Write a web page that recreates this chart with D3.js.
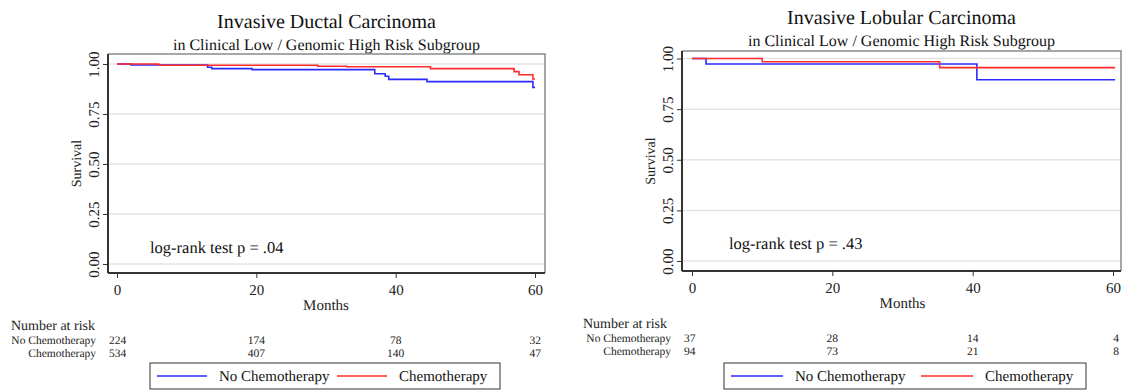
<!DOCTYPE html>
<html>
<head>
<meta charset="utf-8">
<script src="https://cdn.jsdelivr.net/npm/d3@7"></script>
<style>
  body { margin: 0; background: #fff; }
  svg, svg text { font-family: "Liberation Serif", "Times New Roman", Times, serif; text-rendering: geometricPrecision; }
  svg { display: block; }
</style>
</head>
<body>
<svg id="chart" width="1127" height="390"></svg>
<script>
// data
const monthTicks = [0, 20, 40, 60];
const survivalTicks = [0, 0.25, 0.5, 0.75, 1];
const groups = ['No Chemotherapy', 'Chemotherapy'];

// Invasive Ductal Carcinoma
const idcNoChemoTime = [0, 2, 13, 13.6, 19.4, 37, 38.5, 39, 44.5, 59.7, 60];
const idcNoChemoSurv = [1, 0.995, 0.984, 0.977, 0.972, 0.951, 0.939, 0.923, 0.912, 0.883, 0.883];
const idcChemoTime = [0, 6, 28.8, 33, 45, 57, 57.7, 59.7, 60];
const idcChemoSurv = [1, 0.994, 0.989, 0.986, 0.977, 0.962, 0.946, 0.925, 0.925];
const idcRiskNoChemo = [224, 174, 78, 32];
const idcRiskChemo = [534, 407, 140, 47];

// Invasive Lobular Carcinoma
const ilcNoChemoTime = [0, 2, 40.6, 60.3];
const ilcNoChemoSurv = [1, 0.973, 0.895, 0.895];
const ilcChemoTime = [0, 10, 35.3, 60.3];
const ilcChemoSurv = [1, 0.984, 0.955, 0.955];
const ilcRiskNoChemo = [37, 28, 14, 4];
const ilcRiskChemo = [94, 73, 21, 8];

const colors = ['#2b2bff', '#ff2b2b'];
const serif = '"Liberation Serif", "Times New Roman", Times, serif';

const svg = d3.select('#chart');

function render(p) {
  const g = svg.append('g').attr('font-family', serif);
  const box = p.box;

  const x = d3.scaleLinear().domain([0, 60]).range(p.xRange);
  const y = d3.scaleLinear().domain([0, 1]).range(p.yRange);

  // titles
  const cx = (box.left + box.right) / 2;
  g.append('text').attr('x', cx).attr('y', p.titleY)
    .attr('text-anchor', 'middle').attr('font-size', 20).attr('fill', '#111')
    .text(p.title);
  g.append('text').attr('x', cx).attr('y', p.titleY + 22)
    .attr('text-anchor', 'middle').attr('font-size', 16).attr('fill', '#111')
    .text('in Clinical Low / Genomic High Risk Subgroup');

  // grid
  g.append('g').selectAll('line').data(survivalTicks).enter().append('line')
    .attr('x1', box.left).attr('x2', box.right)
    .attr('y1', d => y(d)).attr('y2', d => y(d))
    .attr('stroke', '#e4e4e4').attr('stroke-width', 1.5);

  // frame (top/right)
  g.append('path')
    .attr('d', `M${box.left},${box.top}H${box.right}V${box.bottom}`)
    .attr('fill', 'none').attr('stroke', '#8a8a8a').attr('stroke-width', 1.5);

  // y axis
  const yAxis = g.append('g')
    .attr('transform', `translate(${box.left},0)`)
    .call(d3.axisLeft(y).tickValues(survivalTicks).tickFormat(d3.format('.2f')).tickSize(5).tickSizeOuter(0))
    .attr('font-family', serif).attr('font-size', 15);
  yAxis.select('.domain').attr('d', `M0,${box.top}V${box.bottom}`).attr('stroke', '#333').attr('stroke-width', 2);
  yAxis.selectAll('.tick line').attr('stroke', '#333');
  yAxis.selectAll('.tick text')
    .attr('x', 0).attr('dy', 0).attr('y', 0)
    .attr('transform', 'translate(-9,0) rotate(-90)')
    .attr('text-anchor', 'middle')
    .attr('fill', '#222');

  g.append('text')
    .attr('transform', `translate(${box.left - 27},${(box.top + box.bottom) / 2}) rotate(-90)`)
    .attr('text-anchor', 'middle').attr('font-size', 14).attr('fill', '#222')
    .text('Survival');

  // x axis
  const xAxis = g.append('g')
    .attr('transform', `translate(0,${box.bottom})`)
    .call(d3.axisBottom(x).tickValues(monthTicks).tickSize(5).tickSizeOuter(0))
    .attr('font-family', serif).attr('font-size', 15);
  xAxis.select('.domain').attr('d', `M${box.left},0H${box.right}`).attr('stroke', '#333').attr('stroke-width', 2);
  xAxis.selectAll('.tick line').attr('stroke', '#333');
  xAxis.selectAll('.tick text')
    .attr('y', 17).attr('dy', '0.32em')
    .attr('fill', '#222');

  g.append('text').attr('x', x(30)).attr('y', box.bottom + 37)
    .attr('text-anchor', 'middle').attr('font-size', 15).attr('fill', '#222')
    .text('Months');

  // survival curves
  const line = d3.line().curve(d3.curveStepAfter).x(d => x(d[0])).y(d => y(d[1]));
  p.curves.forEach((c, i) => {
    g.append('path')
      .datum(d3.zip(c.time, c.surv))
      .attr('d', line)
      .attr('fill', 'none')
      .attr('stroke', colors[i])
      .attr('stroke-width', 1.6);
  });

  g.append('text').attr('x', p.pLabel[0]).attr('y', p.pLabel[1])
    .attr('font-size', 16.5).attr('fill', '#111')
    .text(p.pText);

  // number at risk
  const rt = box.bottom + 57;
  g.append('text').attr('x', p.riskLeft).attr('y', rt)
    .attr('font-size', 14).attr('fill', '#222').text('Number at risk');
  p.risk.forEach((row, i) => {
    const ry = rt + 14 + i * 13;
    g.append('text').attr('x', p.xRange[0] - 21).attr('y', ry)
      .attr('text-anchor', 'end').attr('font-size', 11.5).attr('fill', '#222')
      .text(groups[i]);
    g.append('g').selectAll('text').data(row).enter().append('text')
      .attr('x', (d, j) => x(monthTicks[j]))
      .attr('y', ry)
      .attr('text-anchor', (d, j) => j === 0 ? 'start' : (j === row.length - 1 ? 'end' : 'middle'))
      .attr('dx', (d, j) => j === 0 ? -8 : (j === row.length - 1 ? 6 : 0))
      .attr('font-size', 11.5).attr('fill', '#222')
      .text(d => d);
  });

  // legend
  const lg = p.legend;
  g.append('rect').attr('x', lg.x).attr('y', lg.y).attr('width', lg.w).attr('height', lg.h)
    .attr('fill', '#fff').attr('stroke', '#555').attr('stroke-width', 1.2);
  groups.forEach((name, i) => {
    const ox = lg.x + lg.itemX[i];
    g.append('line')
      .attr('x1', ox).attr('x2', ox + lg.sample)
      .attr('y1', lg.y + lg.h / 2).attr('y2', lg.y + lg.h / 2)
      .attr('stroke', colors[i]).attr('stroke-width', 1.6);
    g.append('text').attr('x', ox + lg.sample + 12).attr('y', lg.y + lg.h / 2 + 5)
      .attr('font-size', 15).attr('fill', '#111')
      .text(name);
  });
}

render({
  title: 'Invasive Ductal Carcinoma',
  titleY: 28,
  box: { left: 108, right: 545, top: 54, bottom: 273 },
  xRange: [117, 535],
  yRange: [264, 64],
  curves: [
    { time: idcNoChemoTime, surv: idcNoChemoSurv },
    { time: idcChemoTime, surv: idcChemoSurv }
  ],
  pText: 'log-rank test p = .04',
  pLabel: [150, 253],
  riskLeft: 11,
  risk: [idcRiskNoChemo, idcRiskChemo],
  legend: { x: 150, y: 363, w: 350, h: 26, sample: 50, itemX: [7, 187] }
});

render({
  title: 'Invasive Lobular Carcinoma',
  titleY: 24,
  box: { left: 682, right: 1121, top: 51, bottom: 271 },
  xRange: [692, 1113],
  yRange: [261, 58.5],
  curves: [
    { time: ilcNoChemoTime, surv: ilcNoChemoSurv },
    { time: ilcChemoTime, surv: ilcChemoSurv }
  ],
  pText: 'log-rank test p = .43',
  pLabel: [729, 249],
  riskLeft: 583,
  risk: [ilcRiskNoChemo, ilcRiskChemo],
  legend: { x: 724, y: 363, w: 362, h: 26, sample: 52, itemX: [7, 197] }
});
</script>
</body>
</html>
